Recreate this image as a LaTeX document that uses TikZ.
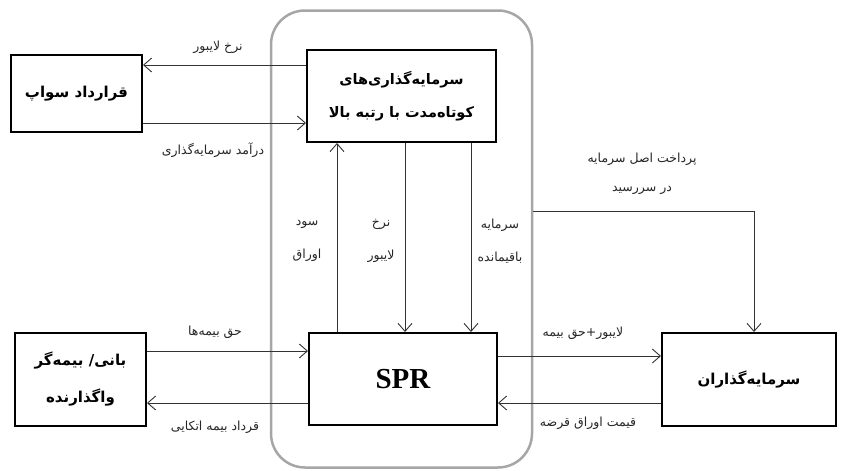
\documentclass[tikz,border=0pt]{standalone}
\usepackage{fontspec}
\setmainfont{DejaVu Sans}
\newfontfamily\fa[Script=Arabic]{DejaVu Sans}
\newfontfamily\tnr{Liberation Serif}
\usetikzlibrary{arrows.meta}
\TeXXeTstate=1
\begin{document}
\begin{tikzpicture}[x=1pt,y=-1pt,
  box/.style={draw=black, line width=2pt, inner sep=0pt, align=center,
    font=\fa\bfseries\fontsize{15}{33}\selectfont},
  grp/.style={draw=black!35, line width=2.5pt, rounded corners=34pt, inner sep=0pt},
  arr/.style={draw=black!80, line width=0.9pt, -{Straight Barb[length=8pt,width=14pt,line width=0.9pt]}},
  ln/.style={draw=black!80, line width=0.9pt},
  lbl/.style={align=center, text=black!85, inner sep=0pt,
    font=\fa\fontsize{12.5}{33}\selectfont}
]
\useasboundingbox (0,0) rectangle (841,471);

% group frame
\node[grp, minimum width=261pt, minimum height=457pt] (grp) at (401.5,239) {};

% boxes
\node[box, minimum width=189pt, minimum height=92pt, font=\fa\bfseries\fontsize{14.5}{33}\selectfont] (top) at (401.5,96)
  {{\beginR سرمایه‌گذاری‌های\endR}\\{\beginR کوتاه‌مدت با رتبه بالا\endR}};
\node[box, minimum width=131pt, minimum height=77pt] (swap) at (76.5,93.5)
  {\beginR قرارداد سواپ\endR};
\node[box, minimum width=188pt, minimum height=92pt, font=\tnr\bfseries\fontsize{29}{30}\selectfont] (spr) at (403,379) {SPR};
\node[box, minimum width=131pt, minimum height=93pt, font=\fa\bfseries\fontsize{15}{37}\selectfont] (bani) at (80.5,379.5)
  {{\beginR بانی/ بیمه‌گر\endR}\\{\beginR واگذارنده\endR}};
\node[box, minimum width=174pt, minimum height=93pt] (inv) at (749,379.5)
  {\beginR سرمایه‌گذاران\endR};

% swap arrows
\draw[arr] (top.west |- 0,65) -- (swap.east |- 0,65);
\draw[arr] (swap.east |- 0,123) -- (top.west |- 0,123);
\node[lbl] (l1) at (218,47) {\beginR نرخ لایبور\endR};
\node[lbl] (l2) at (213,150) {\beginR درآمد سرمایه‌گذاری\endR};

% vertical arrows
\draw[arr] (spr.north -| 337,0) -- (top.south -| 337,0);
\draw[arr] (top.south -| 405,0) -- (spr.north -| 405,0);
\draw[arr] (top.south -| 471,0) -- (spr.north -| 471,0);
\node[lbl] (l3) at (307,241) {{\beginR سود\endR}\\{\beginR اوراق\endR}};
\node[lbl] (l4) at (381,241) {{\beginR نرخ\endR}\\{\beginR لایبور\endR}};
\node[lbl] (l5) at (500,241) {{\beginR سرمایه\endR}\\{\beginR باقیمانده\endR}};

% bani arrows
\draw[arr] (bani.east |- 0,351) -- (spr.west |- 0,351);
\draw[arr] (spr.west |- 0,403) -- (bani.east |- 0,403);
\node[lbl] (l6) at (215,332) {\beginR حق بیمه‌ها\endR};
\node[lbl] (l7) at (215,427) {\beginR قرداد بیمه اتکایی\endR};

% investor arrows
\draw[arr] (spr.east |- 0,356) -- (inv.west |- 0,356);
\draw[arr] (inv.west |- 0,403) -- (spr.east |- 0,403);
\node[lbl] (l8) at (583,333) {\beginR لایبور+حق بیمه\endR};
\node[lbl] (l9) at (588,423) {\beginR قیمت اوراق قرضه\endR};

% principal repayment
\coordinate (corner) at (754,211);
\draw[ln] (grp.east |- corner) -- (corner);
\draw[arr] (corner) -- (inv.north -| corner);
\node[lbl, font=\fa\fontsize{12.5}{29}\selectfont] (l10) at (642,174)
  {{\beginR پرداخت اصل سرمایه\endR}\\{\beginR در سررسید\endR}};
\end{tikzpicture}
\end{document}
